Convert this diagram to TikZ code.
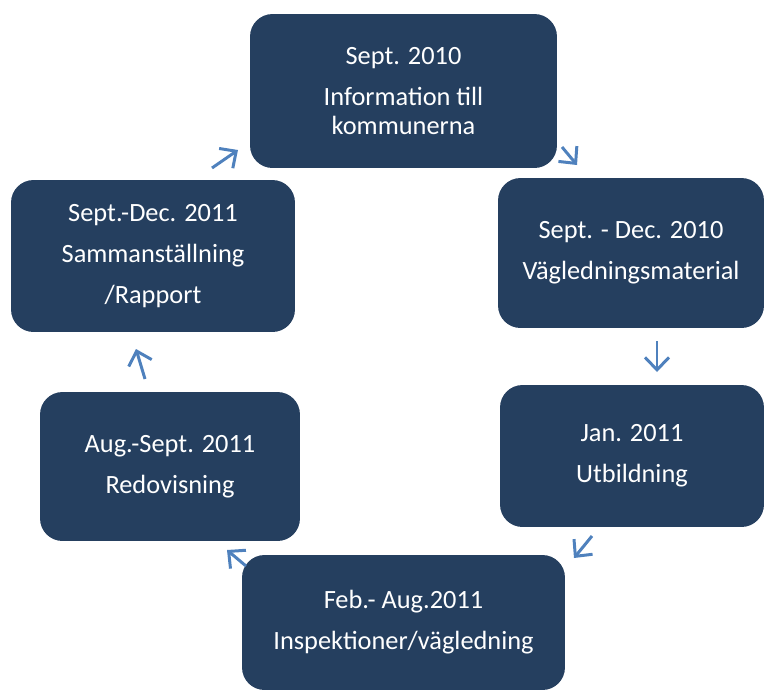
\documentclass[tikz,border=0pt]{standalone}
\usepackage{fontspec}
\setmainfont{Carlito}
\usetikzlibrary{arrows.meta,positioning}

\begin{document}
\begin{tikzpicture}[
    x=0.02cm, y=-0.02cm,
    font=\fontsize{15}{16.5}\selectfont,
]

\definecolor{stepColor}{RGB}{37, 63, 95}
\definecolor{arrowColor}{RGB}{79, 129, 189}

\tikzset{
    phase/.style = {rectangle, rounded corners=0.45cm, fill=stepColor, draw=none,
                    text=white, align=center, inner sep=0pt},
    arrow/.style = {draw=arrowColor, line width=1.7pt,
                    -{Straight Barb[length=2.5mm, width=4.8mm, line width=1.7pt]}},
}

\useasboundingbox (0,0) rectangle (765,691);

% =========== PHASES ===========
\node[phase, minimum width=6.14cm, minimum height=3.08cm] (info) at (403.5, 91) {
    Sept. 2010\\[6.8pt]Information till\\kommunerna
};
\node[phase, minimum width=5.32cm, minimum height=3cm] (material) at (631, 253) {
    Sept. - Dec. 2010\\[6.8pt]Vägledningsmaterial
};
\node[phase, minimum width=5.28cm, minimum height=2.84cm] (utbildning) at (632, 456) {
    Jan. 2011\\[6.8pt]Utbildning
};
\node[phase, minimum width=6.46cm, minimum height=2.7cm] (inspektion) at (403.5, 622.5) {
    Feb.- Aug.2011\\[6.8pt]Inspektioner/vägledning
};
\node[phase, minimum width=5.2cm, minimum height=2.98cm] (redovisning) at (170, 466.5) {
    Aug.-Sept. 2011\\[6.8pt]Redovisning
};
\node[phase, minimum width=5.68cm, minimum height=3.04cm] (rapport) at (153, 256) {
    Sept.-Dec. 2011\\[6.8pt]Sammanställning\\[6.8pt]/Rapport
};

% =========== ARROWS ===========
\coordinate (a1s) at (212, 168);  \coordinate (a1e) at (238, 150);
\coordinate (a2s) at (562, 147);  \coordinate (a2e) at (577, 165);
\coordinate (a3s) at (657, 341);  \coordinate (a3e) at (657, 372);
\coordinate (a4s) at (592, 536);  \coordinate (a4e) at (574, 558);
\coordinate (a5s) at (246, 566);  \coordinate (a5e) at (227, 550);
\coordinate (a6s) at (145, 379);  \coordinate (a6e) at (136, 349);

\draw[arrow] (a1s) -- (a1e);
\draw[arrow] (a2s) -- (a2e);
\draw[arrow] (a3s) -- (a3e);
\draw[arrow] (a4s) -- (a4e);
\draw[arrow] (a5s) -- (a5e);
\draw[arrow] (a6s) -- (a6e);

\end{tikzpicture}
\end{document}
